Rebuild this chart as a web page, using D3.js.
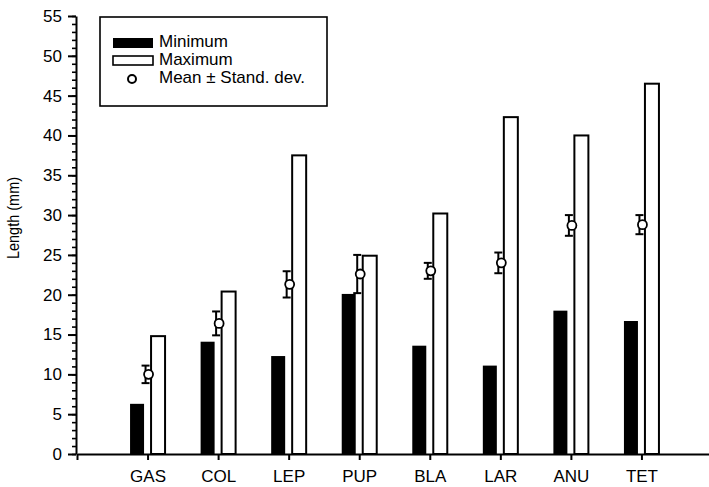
<!DOCTYPE html>
<html>
<head>
<meta charset="utf-8">
<script src="https://cdn.jsdelivr.net/npm/d3@7"></script>
<style>
  body { margin: 0; background: #fff; }
  text { font-family: Arial, "Liberation Sans", sans-serif; fill: #000; }
</style>
</head>
<body>
<script>
// data
const groups = ['GAS', 'COL', 'LEP', 'PUP', 'BLA', 'LAR', 'ANU', 'TET']
const minimum = [6.3, 14.1, 12.3, 20.1, 13.6, 11.1, 18.0, 16.7]
const maximum = [14.8, 20.4, 37.5, 24.9, 30.2, 42.3, 40.0, 46.5]
const meanVal = [10.0, 16.4, 21.3, 22.6, 23.0, 24.0, 28.7, 28.8]
const stdDev = [1.1, 1.5, 1.65, 2.4, 1.0, 1.3, 1.3, 1.2]
const yTicks = [0, 5, 10, 15, 20, 25, 30, 35, 40, 45, 50, 55]
const legendLabels = ['Minimum', 'Maximum', 'Mean \u00b1 Stand. dev.']

const w = 709
const h = 487
const barW = 14

const svg = d3.select('body')
    .append('svg')
    .attr('width', w)
    .attr('height', h)

// x: groups sit at 1..8, axis starts at 0
const x = d3.scaleLinear().domain([0, 9]).range([77, 712])
const y = d3.scaleLinear().domain([0, 55]).range([454, 16])

const rows = groups.map((g, i) => ({
    g, pos: i + 1, min: minimum[i], max: maximum[i], mean: meanVal[i], sd: stdDev[i]
}))

// minor y ticks
svg.append('g')
    .attr('transform', 'translate(76,0)')
    .call(d3.axisLeft(y).tickValues(d3.range(0, 56, 1)).tickSize(4).tickSizeOuter(0).tickFormat(''))
    .call(g => g.select('.domain').remove())
    .selectAll('line').attr('stroke-width', 1.6)

// major y ticks + labels
const yAxis = svg.append('g')
    .attr('transform', 'translate(76,0)')
    .call(d3.axisLeft(y).tickValues(yTicks).tickSize(8).tickSizeOuter(0).tickPadding(6))
yAxis.selectAll('text').attr('font-size', 17)
yAxis.selectAll('line').attr('stroke-width', 2)
yAxis.select('.domain').attr('stroke-width', 2)

// x axis
const xAxis = svg.append('g')
    .attr('transform', 'translate(0,454)')
    .call(d3.axisBottom(x).tickValues(d3.range(0, 9)).tickSize(6).tickSizeOuter(0).tickPadding(10)
        .tickFormat(d => d === 0 ? '' : groups[d - 1]))
xAxis.selectAll('text').attr('font-size', 17)
xAxis.selectAll('line').attr('stroke-width', 2)
xAxis.select('.domain').attr('stroke-width', 2)

// minimum bars
svg.append('g')
    .selectAll('rect')
    .data(rows)
    .enter()
    .append('rect')
    .attr('x', d => x(d.pos) - 10.5 - barW / 2)
    .attr('y', d => y(d.min))
    .attr('width', barW)
    .attr('height', d => y(0) - y(d.min))
    .attr('fill', '#000')

// maximum bars
svg.append('g')
    .selectAll('rect')
    .data(rows)
    .enter()
    .append('rect')
    .attr('x', d => x(d.pos) + 10.5 - barW / 2)
    .attr('y', d => y(d.max))
    .attr('width', barW)
    .attr('height', d => y(0) - y(d.max))
    .attr('fill', '#fff')
    .attr('stroke', '#000')
    .attr('stroke-width', 2)

// mean +- sd
const err = svg.append('g')
    .selectAll('g')
    .data(rows)
    .enter()
    .append('g')
    .attr('stroke', '#000')
    .attr('stroke-width', 2)

err.append('line')
    .attr('x1', d => x(d.pos) - 2).attr('x2', d => x(d.pos) - 2)
    .attr('y1', d => y(d.mean - d.sd)).attr('y2', d => y(d.mean + d.sd))
err.append('line')
    .attr('x1', d => x(d.pos) - 6).attr('x2', d => x(d.pos) + 2)
    .attr('y1', d => y(d.mean + d.sd)).attr('y2', d => y(d.mean + d.sd))
err.append('line')
    .attr('x1', d => x(d.pos) - 6).attr('x2', d => x(d.pos) + 2)
    .attr('y1', d => y(d.mean - d.sd)).attr('y2', d => y(d.mean - d.sd))
err.append('circle')
    .attr('cx', d => x(d.pos) + 1)
    .attr('cy', d => y(d.mean))
    .attr('r', 4.5)
    .attr('fill', '#fff')
    .attr('stroke-width', 1.8)

// legend
const legend = svg.append('g').attr('transform', 'translate(100,17)')
legend.append('rect')
    .attr('width', 227).attr('height', 89)
    .attr('fill', '#fff').attr('stroke', '#000').attr('stroke-width', 1.6)
legend.append('rect')
    .attr('x', 13).attr('y', 21).attr('width', 40).attr('height', 10)
    .attr('fill', '#000')
legend.append('rect')
    .attr('x', 13).attr('y', 39).attr('width', 40).attr('height', 9)
    .attr('fill', '#fff').attr('stroke', '#000').attr('stroke-width', 1.6)
legend.append('circle')
    .attr('cx', 32).attr('cy', 62).attr('r', 4)
    .attr('fill', '#fff').attr('stroke', '#000').attr('stroke-width', 2)
legend.selectAll('text.lab')
    .data(legendLabels)
    .enter()
    .append('text')
    .attr('class', 'lab')
    .attr('x', 59)
    .attr('y', (d, i) => 30 + i * 18)
    .attr('font-size', 17)
    .text(d => d)

// y label (glyphs a bit wider, as in the scan)
svg.append('text')
    .attr('transform', 'translate(19,218) rotate(-90) scale(1,1.15)')
    .attr('text-anchor', 'middle')
    .attr('font-size', 14.5)
    .text('Length (mm)')
</script>
</body>
</html>
